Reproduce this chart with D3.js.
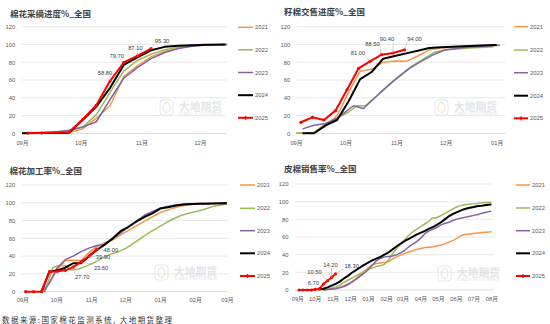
<!DOCTYPE html>
<html><head><meta charset="utf-8">
<script src="https://cdn.jsdelivr.net/npm/d3@7"></script>
<style>body{margin:0;background:#fff;}svg{display:block;}</style>
</head><body>
<svg id="c" width="550" height="324"></svg>
<script>
// ---------------- DATA ----------------
const years = ['2021','2022','2023','2024','2025'];
const yTickValues = [0,20,40,60,80,100,120];
const titles = ['棉花采摘进度%_全国','籽棉交售进度%_全国','棉花加工率%_全国','皮棉销售率%_全国'];
const sourceNote = '数据来源:国家棉花监测系统, 大地期货整理';
const watermarkName = '大地期货';
const watermarkSub = 'DADI FUTURES';

// x = days since 1 Sep of season, y = percent
const pickMonths = ['09月','10月','11月','12月'];
const pick2021 = [[0,0],[10,0.3],[17,0.5],[24,1],[31,5],[38,17],[45,31],[52,64],[59,76],[66,86],[73,92],[80,96],[87,98.5],[94,99.5],[104,100]];
const pick2022 = [[0,0],[10,1],[17,1.5],[24,2.5],[31,7],[38,21],[45,46],[52,70],[59,82],[66,89],[73,94],[80,97],[87,98.5],[94,99.5],[104,100]];
const pick2023 = [[0,0],[10,1],[17,1.5],[24,3.5],[31,7],[38,13],[45,38],[52,62],[59,74],[66,84],[73,91],[80,95.5],[87,98],[94,99.5],[105,100]];
const pick2024 = [[0,0],[10,0.2],[17,0.4],[24,0.7],[31,15],[38,30],[45,51],[52,77],[59,85.5],[66,93.5],[73,97.3],[80,98.5],[87,99.2],[94,99.7],[104,100]];
const pick2025 = [[3,0.3],[10,0.3],[17,0.8],[24,1.2],[31,15.5],[38,31.5],[45,58.8],[52,79.7],[59,87.1],[66,95.3]];

const sellMonths = ['09月','10月','11月','12月','01月'];
const sell2021 = [[0,0],[11,1],[18,8],[25,20],[32,46],[39,70],[46,72],[53,80],[60,81.5],[67,81],[74,87],[81,94],[88,96],[95,97],[102,97.5],[109,97.5],[116,97.8],[120,98]];
const sell2022 = [[0,0],[11,1],[18,11],[25,17],[32,24],[37,31],[42,31],[49,42],[56,54],[63,65],[70,75],[77,83],[84,91],[91,94],[98,95],[105,96],[112,96.5],[120,97.5]];
const sell2023 = [[4,5],[11,9],[18,11],[25,17],[35,31],[41,28],[48,40],[55,52],[62,63],[69,73],[76,81],[83,88],[90,93.5],[97,95.5],[104,97],[111,97.5],[118,98.5],[124,99]];
const sell2024 = [[4,0],[11,0],[18,9],[25,15],[32,36],[39,61],[46,69],[53,84],[60,87],[67,90],[74,93],[81,96],[88,97],[95,97.5],[102,98],[109,98.5],[116,99],[122,99.5]];
const sell2025 = [[3,12.4],[10,18],[17,15],[24,25.5],[31,49],[38,73],[45,81],[52,88.5],[59,90.4],[66,94]];

const procMonths = ['09月','10月','11月','12月','01月','02月','03月'];
const proc2021 = [[17,0],[24,10],[31,25],[38,35],[45,35.5],[52,35],[59,44],[66,51],[73,55],[80,58],[87,64],[94,69],[101,74],[108,79],[115,84],[122,89],[129,92],[136,95],[143,97],[150,98],[157,98.5],[164,99],[171,99.5],[181,100]];
const proc2022 = [[20,0],[27,27],[31,29],[38,29.5],[43,24.5],[50,25.5],[57,29],[64,33],[71,38],[78,42],[85,45],[92,49],[99,55],[106,61],[113,67],[120,72],[127,77.5],[134,82],[141,86],[148,88.5],[155,90.5],[162,93],[169,96],[176,97.5],[181,98.5]];
const proc2023 = [[19,0],[24,10],[31,27],[38,36],[45,40],[52,45],[59,49],[66,52],[73,53],[80,59],[87,66],[94,73],[101,79],[108,86],[115,90],[122,94],[129,96],[136,97.5],[143,98.5],[150,99],[157,99.3],[164,99.5],[171,99.6],[181,99.8]];
const proc2024 = [[17,0],[24,22.5],[31,24],[38,27],[45,32],[52,32],[59,40],[66,47],[73,53],[80,60],[87,68],[94,73],[101,79],[108,84],[115,88],[122,93.5],[129,95],[136,97],[143,98],[150,98.5],[157,99],[164,99],[171,99.3],[181,99.5]];
const proc2025 = [[3,0],[10,0],[17,0],[24,22.5],[31,23],[38,24],[45,27.7],[52,33.6],[59,39.9],[66,48.0]];

const salesMonths = ['09月','10月','11月','12月','01月','02月','03月','04月','05月','06月','07月','08月'];
const sales2021 = [[45,0],[52,0.5],[59,1],[66,2],[73,3],[80,5],[87,7],[94,9.5],[101,13],[108,17],[115,21],[122,25],[129,28.5],[136,30],[143,30.5],[150,31],[157,32],[164,35],[171,37.5],[178,39.5],[185,41.5],[192,43],[199,44.5],[206,46],[213,47],[220,48],[227,48.5],[234,49],[241,50],[248,51],[255,52.5],[262,54.5],[269,56.5],[276,59],[283,62],[290,63],[297,63.5],[304,64],[311,64.5],[318,65],[325,65.5],[334,66]];
const sales2022 = [[36,0],[45,0.5],[52,1],[59,2],[66,3.5],[73,5.5],[80,8.5],[87,11],[94,13.5],[101,16],[108,18.5],[115,21],[122,23],[129,25],[136,26.5],[143,27.5],[150,29],[157,34],[164,41],[171,47],[178,52],[185,57],[192,62],[199,66],[206,69],[213,72],[220,75],[227,78],[232,81.5],[239,81.5],[246,84],[253,86.5],[260,89],[267,91.5],[274,94],[281,95.5],[288,96.5],[295,97],[302,97.5],[309,98],[316,98.5],[323,99],[334,99]];
const sales2023 = [[45,0],[52,0.5],[59,1],[66,1.5],[73,2.5],[80,4],[87,6],[94,9],[101,12],[108,15.5],[115,19],[122,23],[129,28],[136,33],[143,36],[150,37.5],[157,38],[164,38.5],[171,40],[178,42],[185,45],[192,49],[199,52],[206,55],[213,59],[220,64],[227,67],[234,69],[241,71],[248,74],[255,75.5],[262,77],[269,79],[276,80.5],[283,81.5],[290,82.5],[297,83.5],[304,84.5],[311,85.5],[318,87],[325,88],[334,89.3]];
const sales2024 = [[38,1],[45,1.5],[52,3],[59,5],[66,7],[73,9.5],[80,13],[87,16],[94,19.5],[101,22.5],[108,25.5],[115,28.5],[122,31],[129,33.5],[136,35.5],[143,37.5],[150,40],[157,42.5],[164,46],[171,49.5],[178,52.5],[185,55.5],[192,58],[199,60.5],[206,63],[213,65],[220,67],[227,69.5],[234,71.5],[241,74],[248,77],[255,80.5],[262,84],[269,86.5],[276,88.5],[283,90.5],[290,92],[297,93],[304,94],[311,95],[318,95.5],[325,96.2],[334,96.8]];
const sales2025 = [[3,0],[10,0],[17,0],[24,0],[31,0.8],[38,1.2],[45,6.7],[52,10.5],[59,14.2],[66,18.3]];

// ---------------- STYLE / LAYOUT ----------------
const seriesStyle = {
  '2021': {color:'#F79646', width:1.5},
  '2022': {color:'#9BBB59', width:1.5},
  '2023': {color:'#8064A2', width:1.5},
  '2024': {color:'#000000', width:2},
  '2025': {color:'#FF0000', width:2}
};
const layouts = [
  {x0:22, pxPerDay:1.956, endDay:105, gx0:21.7, gx1:226.7, y0:133.3, y120:26.7, titleX:10, titleY:16.5,
   legX:238, legW:15, legY:[27.3,49.8,72.5,95.2,117.8], tickPad:7.8, wm:[160,100],
   ann:[[6,-5,-8],[7,-7,-6.5],[8,-2,-8],[9,11,-8]]},
  {x0:296, pxPerDay:1.645, endDay:126, gx0:296.7, gx1:505, y0:133.3, y120:26.7, titleX:284, titleY:15,
   legX:514, legW:14, legY:[26.7,50,72.7,95.7,118.3], tickPad:7.8, wm:[435,100],
   ann:[[6,-12,-8],[7,-9,-11],[8,-6,-13.5],[9,10,-11]]},
  {x0:22.3, pxPerDay:1.13, endDay:181, gx0:21.7, gx1:228.3, y0:291.7, y120:185, titleX:9.5, titleY:173.5,
   legX:240, legW:15, legY:[185,208.3,230.7,253.3,276], tickPad:6.2, wm:[155,265],
   ann:[[6,9,9.5],[7,20,6],[8,14,1],[9,14,0.5]]},
  {x0:297.3, pxPerDay:0.581, endDay:334, gx0:295, gx1:493.3, y0:290, y120:184, titleX:284, titleY:171.5,
   legX:516, legW:14, legY:[185,208,230.7,253.3,276], tickPad:6.8, wm:[438,266],
   ann:[[6,-10,-1],[7,-13,-9],[8,-1,-12.5],[9,16,-8]]}
];
const panelData = [
  {months:pickMonths, series:[pick2021,pick2022,pick2023,pick2024,pick2025]},
  {months:sellMonths, series:[sell2021,sell2022,sell2023,sell2024,sell2025]},
  {months:procMonths, series:[proc2021,proc2022,proc2023,proc2024,proc2025]},
  {months:salesMonths, series:[sales2021,sales2022,sales2023,sales2024,sales2025]}
];

const svg = d3.select('#c');
svg.append('rect').attr('width',550).attr('height',324).attr('fill','#fff');
const base = new Date(Date.UTC(2025,8,1));
const dayToDate = d => d3.utcDay.offset(base, d);
const tickFont = '"Liberation Sans","Noto Sans CJK SC",sans-serif';
const cjkFont = '"Noto Sans CJK SC",sans-serif';

function watermark(g, x, y) {
  const w = g.append('g').attr('opacity',0.5);
  w.append('rect').attr('x',x).attr('y',y).attr('width',13).attr('height',15).attr('rx',3)
    .attr('fill','none').attr('stroke','#c9d6e8').attr('stroke-width',1);
  w.append('ellipse').attr('cx',x+6.5).attr('cy',y+7.5).attr('rx',3.3).attr('ry',5)
    .attr('fill','none').attr('stroke','#ecd9a0').attr('stroke-width',1.4);
  w.append('text').attr('x',x+19).attr('y',y+10.5).text(watermarkName)
    .attr('font-family',cjkFont).attr('font-size',11).attr('font-weight','bold').attr('fill','#c8ccd4')
    .attr('textLength',43).attr('lengthAdjust','spacingAndGlyphs');
  w.append('text').attr('x',x+19).attr('y',y+15).text(watermarkSub)
    .attr('font-family',tickFont).attr('font-size',3.8).attr('fill','#c8ccd4')
    .attr('textLength',43).attr('lengthAdjust','spacingAndGlyphs');
}

panelData.forEach((pd, pi) => {
  const L = layouts[pi];
  const g = svg.append('g');
  const x = d3.scaleUtc().domain([base, dayToDate(L.endDay)]).range([L.x0, L.x0 + L.endDay*L.pxPerDay]);
  const y = d3.scaleLinear().domain([0,120]).range([L.y0, L.y120]);

  g.append('text').attr('x',L.titleX).attr('y',L.titleY).text(titles[pi])
    .attr('font-family',cjkFont).attr('font-size',8.5).attr('font-weight','bold').attr('fill','#404040');

  g.append('g').selectAll('line').data(yTickValues).join('line')
    .attr('x1',L.gx0).attr('x2',L.gx1).attr('y1',d=>y(d)).attr('y2',d=>y(d))
    .attr('stroke',d=>d===0?'#d0d0d0':'#e3e3e3').attr('stroke-width',0.8);

  const ya = g.append('g').attr('transform',`translate(${L.gx0},0)`)
    .call(d3.axisLeft(y).tickValues(yTickValues).tickSize(0).tickPadding(6.5));
  ya.select('.domain').remove();
  ya.selectAll('text').attr('font-family',tickFont).attr('font-size',5.8).attr('fill','#595959');

  const monthTicks = d3.utcMonth.range(base, d3.utcDay.offset(dayToDate(L.endDay),1)).slice(0, pd.months.length);
  const xa = g.append('g').attr('transform',`translate(0,${L.y0})`)
    .call(d3.axisBottom(x).tickValues(monthTicks).tickFormat((d,i)=>pd.months[i]).tickSize(0).tickPadding(L.tickPad));
  xa.select('.domain').remove();
  xa.selectAll('text').attr('font-family',tickFont).attr('font-size',5.8).attr('fill','#595959');

  watermark(g, L.wm[0], L.wm[1]);

  const line = d3.line().x(d=>x(dayToDate(d[0]))).y(d=>y(d[1]));
  pd.series.forEach((s, si) => {
    const st = seriesStyle[years[si]];
    g.append('path').datum(s).attr('d',line).attr('fill','none')
      .attr('stroke',st.color).attr('stroke-width',st.width).attr('stroke-linejoin','round');
  });
  const red = pd.series[4];
  g.append('g').selectAll('circle').data(red).join('circle')
    .attr('cx',d=>x(dayToDate(d[0]))).attr('cy',d=>y(d[1])).attr('r',1.6).attr('fill','#FF0000');

  L.ann.forEach(([idx,dx,dy]) => {
    const p = red[idx];
    const px = x(dayToDate(p[0])), py = y(p[1]);
    const lx = px+dx, ly = py+dy;
    const bw = 15, bh = 6;
    const cx = Math.max(lx-bw/2, Math.min(px, lx+bw/2));
    const cy = Math.max(ly-bh/2, Math.min(py, ly+bh/2));
    if (Math.hypot(px-cx, py-cy) > 3.5) {
      g.append('line').attr('x1',cx).attr('y1',cy).attr('x2',px).attr('y2',py)
        .attr('stroke','#a6a6a6').attr('stroke-width',0.5);
    }
    g.append('text').attr('x',lx).attr('y',ly+2).attr('text-anchor','middle').text(p[1].toFixed(2))
      .attr('font-family',tickFont).attr('font-size',5.8).attr('fill','#404040');
  });

  years.forEach((yr, i) => {
    const st = seriesStyle[yr];
    const ly = L.legY[i];
    g.append('line').attr('x1',L.legX).attr('x2',L.legX+L.legW).attr('y1',ly).attr('y2',ly)
      .attr('stroke',st.color).attr('stroke-width',st.width);
    if (yr === '2025') {
      g.append('rect').attr('x',L.legX+L.legW/2-0.7).attr('y',ly-2).attr('width',1.4).attr('height',4).attr('fill',st.color);
    }
    g.append('text').attr('x',L.legX+L.legW+2).attr('y',ly+2).text(yr)
      .attr('font-family',tickFont).attr('font-size',5.8).attr('fill','#595959');
  });
});

svg.append('text').attr('x',2).attr('y',323).text(sourceNote)
  .attr('font-family',cjkFont).attr('font-size',7.5).attr('fill','#333')
  .attr('textLength',170).attr('lengthAdjust','spacing');
</script>
</body></html>
